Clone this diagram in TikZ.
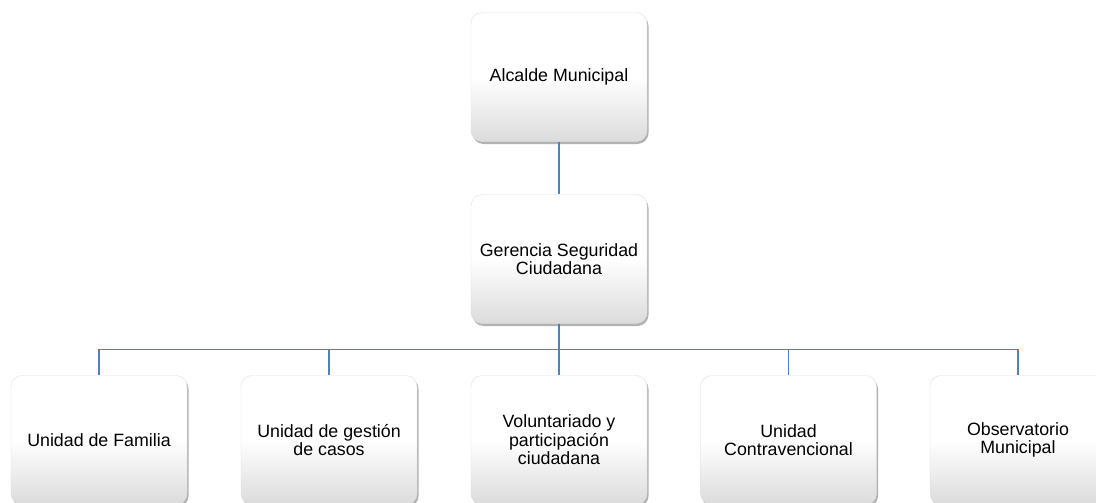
\documentclass[tikz,border=0pt]{standalone}
\usepackage{fontspec}
\setmainfont{Liberation Sans}
\usetikzlibrary{shadows,calc}
\definecolor{linkblue}{RGB}{79,129,189}
\tikzset{
  orgbox/.style={rectangle, rounded corners=11pt, minimum width=176pt, minimum height=129pt,
    top color=white, bottom color=black!14, middle color=white, shading angle=0,
    draw=black!12, line width=0.4pt, align=center,
    font=\fontsize{17.8}{18.5}\selectfont,
    drop shadow={shadow xshift=1.5pt, shadow yshift=-2.5pt, opacity=0.5, fill=black!60}},
  conn/.style={draw=linkblue, line width=1.5pt}
}
\begin{document}
\begin{tikzpicture}[x=1pt,y=-1pt]
\useasboundingbox (0,0) rectangle (1096,503);
\clip (0,0) rectangle (1096,503);
\fill[white] (0,0) rectangle (1096,503);
\node[orgbox] (a) at (559,77) {Alcalde Municipal};
\node[orgbox] (g) at (559,259) {Gerencia Seguridad\\Ciudadana};
\node[orgbox] (c1) at (99,440) {Unidad de Familia};
\node[orgbox] (c2) at (329,440) {Unidad de gestión\\de casos};
\node[orgbox] (c3) at (559,440) {Voluntariado y\\participación\\ciudadana};
\node[orgbox] (c4) at (788.5,440) {Unidad\\Contravencional};
\node[orgbox] (c5) at (1018,440) {Observatorio\\Municipal};
\draw[conn] (a.south) -- (g.north);
\foreach \c in {c1,c2,c3,c4,c5}{
  \draw[conn] (g.south) -- ($(g.south)!.5!(g.south|-\c.north)$) -| (\c.north);
}
\end{tikzpicture}
\end{document}
